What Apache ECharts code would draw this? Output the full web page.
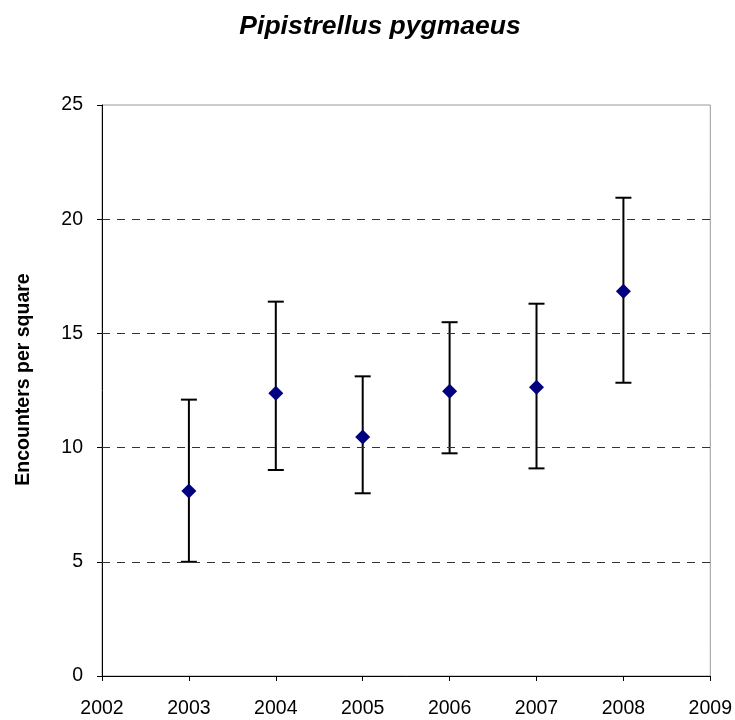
<!DOCTYPE html>
<html><head><meta charset="utf-8">
<script src="https://cdn.jsdelivr.net/npm/echarts@6/dist/echarts.min.js"></script>
<style>html,body{margin:0;padding:0;background:#fff}#c{width:735px;height:720px}</style>
</head><body><div id="c"></div>
<script>
const years = [2003, 2004, 2005, 2006, 2007, 2008];
const means = [8.1, 12.38, 10.46, 12.47, 12.64, 16.84];
const lower = [5.0, 9.02, 8.0, 9.75, 9.09, 12.84];
const upper = [12.1, 16.39, 13.12, 15.49, 16.3, 20.94];
const yTicks = [0, 5, 10, 15, 20, 25];
const xTicks = [2002, 2003, 2004, 2005, 2006, 2007, 2008, 2009];

const font = 'Liberation Sans, Arial, sans-serif';
const chart = echarts.init(document.getElementById('c'));
const errData = years.map((y, i) => [y, lower[i], upper[i]]);
const gridVals = yTicks.slice(1, -1);
chart.setOption({
  animation: false,
  title: {
    text: 'Pipistrellus pygmaeus', left: 375, top: 8, textAlign: 'center',
    textStyle: { fontFamily: font, fontSize: 26.5, fontWeight: 'bold', fontStyle: 'italic', color: '#000' }
  },
  grid: { left: 102, right: 24, top: 105, bottom: 44, show: true, borderColor: '#999', borderWidth: 1 },
  xAxis: {
    type: 'value', min: xTicks[0], max: xTicks[xTicks.length - 1], interval: 1,
    axisLine: { lineStyle: { color: '#000', width: 1 } },
    axisTick: { show: true, length: 5, lineStyle: { color: '#000' } },
    axisLabel: { fontFamily: font, fontSize: 19.5, color: '#000', margin: 23, formatter: v => String(v) },
    splitLine: { show: false }
  },
  yAxis: {
    type: 'value', min: yTicks[0], max: yTicks[yTicks.length - 1], interval: 5,
    name: 'Encounters per square', nameLocation: 'middle', nameGap: 68, nameRotate: 90,
    nameTextStyle: { fontFamily: font, fontSize: 19.5, fontWeight: 'bold', color: '#000', padding: [0, 0, 0, 22] },
    axisLine: { show: true, lineStyle: { color: '#000', width: 1 } },
    axisTick: { show: true, length: 5, lineStyle: { color: '#000' } },
    axisLabel: { fontFamily: font, fontSize: 19.5, color: '#000', margin: 19 },
    splitLine: { show: false }
  },
  series: [
    {
      type: 'line', data: [], z: 1, silent: true,
      markLine: {
        silent: true, symbol: 'none', label: { show: false }, animation: false,
        lineStyle: { color: '#333', type: [8, 7], width: 1 },
        data: gridVals.map(v => ({ yAxis: v }))
      }
    },
    {
      type: 'custom', data: errData, z: 2,
      renderItem: function (params, api) {
        const x = api.value(0);
        const lo = api.coord([x, api.value(1)]);
        const hi = api.coord([x, api.value(2)]);
        const w = 8;
        const st = { stroke: '#000', lineWidth: 2 };
        return { type: 'group', children: [
          { type: 'line', shape: { x1: lo[0], y1: lo[1], x2: hi[0], y2: hi[1] }, style: st },
          { type: 'line', shape: { x1: lo[0] - w, y1: lo[1], x2: lo[0] + w, y2: lo[1] }, style: st },
          { type: 'line', shape: { x1: hi[0] - w, y1: hi[1], x2: hi[0] + w, y2: hi[1] }, style: st }
        ]};
      }
    },
    {
      type: 'scatter', data: years.map((y, i) => [y, means[i]]), z: 3,
      symbol: 'diamond', symbolSize: [15, 15],
      itemStyle: { color: '#000080', opacity: 1 }
    }
  ]
});
</script></body></html>
